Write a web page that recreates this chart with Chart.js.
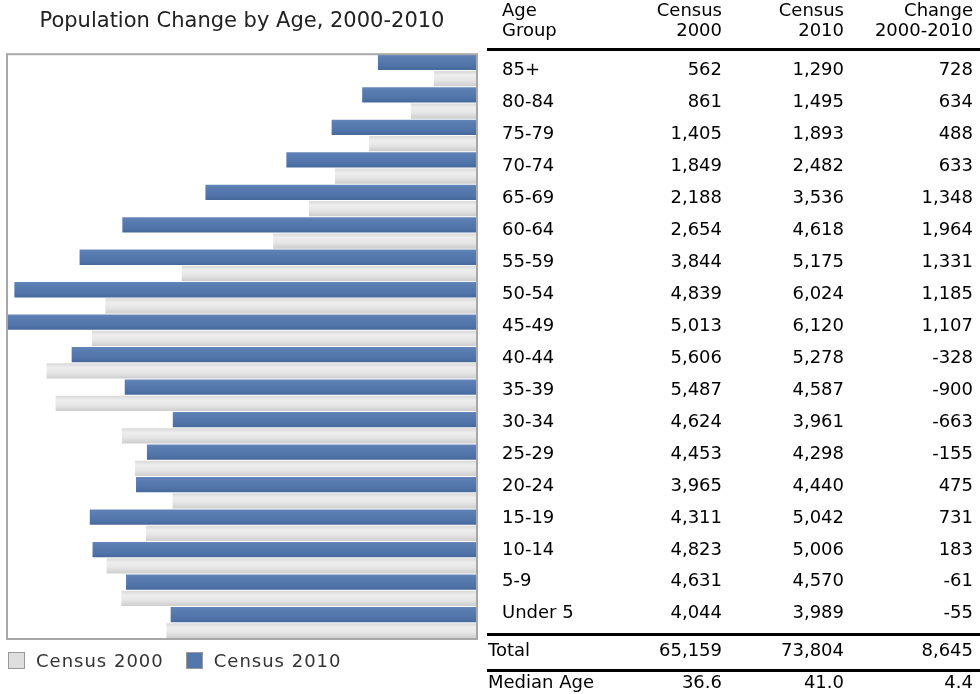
<!DOCTYPE html>
<html>
<head>
<meta charset="utf-8">
<script src="https://cdn.jsdelivr.net/npm/chart.js@4/dist/chart.umd.min.js"></script>
<style>
  body { margin: 0; background: #fff; width: 980px; height: 694px; overflow: hidden;
         font-family: "DejaVu Sans", Verdana, sans-serif; position: relative; }
  #chartBox { position: absolute; left: 0; top: 0; width: 490px; height: 694px; }
  #legend { position: absolute; left: 8px; top: 650px; font-size: 18px; letter-spacing: 1px;
            color: #333; display: flex; align-items: center; }
  #legend .item { display: flex; align-items: center; margin-right: 22px; }
  #legend .box { width: 15px; height: 15px; border: 1px solid #999; margin-right: 11px; }
  #tbl { position: absolute; left: 487px; top: 0; width: 493px; font-size: 18px; color: #000; }
  .r { display: flex; align-items: center; }
  .r > div { text-align: right; box-sizing: border-box; }
  .r > .c0 { width: 128px; text-align: left; padding-left: 15px; }
  .c1 { width: 107px; }
  .c2 { width: 122px; }
  .c3 { width: 129px; }
  .hd { height: 51px; line-height: 20px; align-items: flex-end; padding-bottom: 8px;
        box-sizing: border-box; border-bottom: 3px solid #000; }
  .row { height: 31.94px; }
  .tot { border-top: 3px solid #000; box-sizing: border-box; }
  .tot > .c0 { padding-left: 1px; }
  .t1 { height: 36px; padding-bottom: 6px; }
  .t2 { height: 22px; }
</style>
</head>
<body>
<div id="chartBox"><canvas id="popChart"></canvas></div>
<div id="legend"></div>
<div id="tbl"></div>
<script>
// tableau + graphique population par âge

const ageGroups = ['85+', '80-84', '75-79', '70-74', '65-69', '60-64', '55-59', '50-54', '45-49',
                   '40-44', '35-39', '30-34', '25-29', '20-24', '15-19', '10-14', '5-9', 'Under 5'];
const census2000 = [562, 861, 1405, 1849, 2188, 2654, 3844, 4839, 5013,
                    5606, 5487, 4624, 4453, 3965, 4311, 4823, 4631, 4044];
const census2010 = [1290, 1495, 1893, 2482, 3536, 4618, 5175, 6024, 6120,
                    5278, 4587, 3961, 4298, 4440, 5042, 5006, 4570, 3989];
const change0010 = [728, 634, 488, 633, 1348, 1964, 1331, 1185, 1107,
                    -328, -900, -663, -155, 475, 731, 183, -61, -55];
const headers = [['Age', 'Group'], ['Census', '2000'], ['Census', '2010'], ['Change', '2000-2010']];
const totalRow = ['Total', 65159, 73804, 8645];
const medianRow = ['Median Age', '36.6', '41.0', '4.4'];

const blueStops = [[0, '#6688bb'], [0.2, '#5a7db2'], [0.7, '#5074a9'], [1, '#45679a']];
const grayStops = [[0, '#d6d6d6'], [0.3, '#eeeeee'], [0.6, '#e6e6e6'], [1, '#cbcbcb']];

const fmt = v => typeof v === 'number' ? v.toLocaleString('en-US') : v;

// dégradé vertical par barre
function barFill(stops, upper) {
    return (c) => {
        const chart = c.chart;
        const y = chart.scales.y;
        if (!chart.chartArea || !y || c.dataIndex === undefined) return stops[2][1];
        const step = y.height / ageGroups.length;
        const mid = y.getPixelForValue(c.dataIndex);
        const top = upper ? mid - step / 2 : mid;
        const g = chart.ctx.createLinearGradient(0, top, 0, top + step / 2);
        stops.forEach(([o, col]) => g.addColorStop(o, col));
        return g;
    };
}

const frame = {
    id: 'frame',
    afterDatasetsDraw(chart) {
        const { ctx, chartArea: a } = chart;
        ctx.save();
        ctx.strokeStyle = '#a8a8a8';
        ctx.lineWidth = 2;
        ctx.strokeRect(a.left, a.top, a.right - a.left, a.bottom - a.top);
        ctx.restore();
    }
};

let ctx = document.getElementById('popChart').getContext('2d');
new Chart(ctx, {
    type: 'bar',
    data: {
        labels: ageGroups,
        datasets: [
            {
                label: 'Census 2010',
                data: census2010,
                backgroundColor: barFill(blueStops, true),
                borderWidth: 0,
            },
            {
                label: 'Census 2000',
                data: census2000,
                backgroundColor: barFill(grayStops, false),
                borderWidth: 0,
            },
        ]
    },
    options: {
        indexAxis: 'y',
        responsive: true,
        maintainAspectRatio: false,
        animation: false,
        categoryPercentage: 1,
        barPercentage: 0.94,
        layout: { padding: { left: 7, right: 13, top: 0, bottom: 55 } },
        scales: {
            x: { display: false, reverse: true, min: 0, max: Math.max(...census2010, ...census2000) },
            y: { display: false }
        },
        plugins: {
            legend: { display: false },
            tooltip: { enabled: false },
            title: {
                display: true,
                text: 'Population Change by Age, 2000-2010',
                color: '#222',
                font: { family: '"DejaVu Sans", Verdana, sans-serif', size: 21, weight: 'normal' },
                padding: { top: 9, bottom: 20 }
            }
        }
    },
    plugins: [frame]
});

// légende HTML
let legend = document.getElementById('legend');
[['Census 2000', '#dedede'], ['Census 2010', '#5377ac']].forEach(([txt, col]) => {
    legend.insertAdjacentHTML('beforeend',
        `<div class="item"><div class="box" style="background:${col}"></div>${txt}</div>`);
});

// tableau
let tbl = document.getElementById('tbl');
let html = '<div class="r hd">' + headers.map((h, i) => `<div class="c${i}">${h[0]}<br>${h[1]}</div>`).join('') + '</div>';
html += '<div style="height:2px"></div>';
ageGroups.forEach((g, i) => {
    html += `<div class="r row"><div class="c0">${g}</div><div class="c1">${fmt(census2000[i])}</div>` +
            `<div class="c2">${fmt(census2010[i])}</div><div class="c3">${fmt(change0010[i])}</div></div>`;
});
html += '<div style="height:5px"></div>';
[[totalRow, 't1'], [medianRow, 't2']].forEach(([row, cls]) => {
    html += `<div class="r tot ${cls}">` + row.map((v, i) => `<div class="c${i}">${fmt(v)}</div>`).join('') + '</div>';
});
tbl.innerHTML = html;
</script>
</body>
</html>
